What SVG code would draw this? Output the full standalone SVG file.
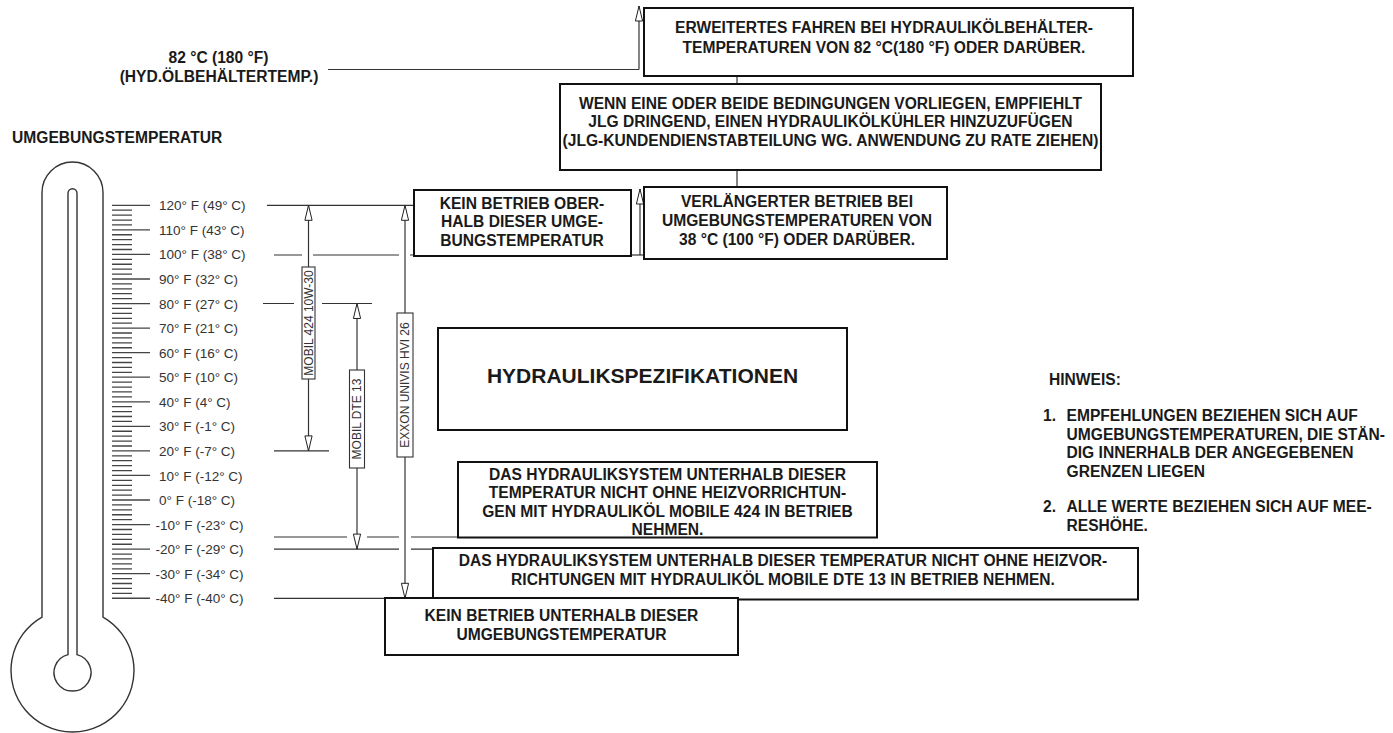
<svg xmlns="http://www.w3.org/2000/svg" width="1393" height="733" viewBox="0 0 1393 733">
<style>
.b{font-family:"Liberation Sans",Arial,Helvetica,sans-serif;font-weight:bold;font-size:15.6px;fill:#1a1a1a}
.bc{text-anchor:middle}
.s{font-family:"Liberation Sans",Arial,Helvetica,sans-serif;font-size:13.5px;fill:#333}
.v{font-family:"Liberation Sans",Arial,Helvetica,sans-serif;font-size:12px;fill:#333;text-anchor:middle}
.box{fill:#fff;stroke:#111;stroke-width:2}
.lbl{fill:#fff;stroke:#333;stroke-width:1.1}
.ln{fill:none;stroke:#333;stroke-width:1.2}
.th{fill:none;stroke:#333;stroke-width:1.4}
.tk{fill:none;stroke:#444;stroke-width:1.3}
</style>
<defs>
<marker id="ah" viewBox="-16 -5 17 10" refX="0" refY="0" markerWidth="17" markerHeight="10" markerUnits="userSpaceOnUse" orient="auto-start-reverse">
<path d="M0,0 L-15,-3.6 L-15,3.6 Z" fill="#fff" stroke="#222" stroke-width="1"/>
</marker>
</defs>
<rect width="1393" height="733" fill="#fff"/>

<g id="thermometer">
<path class="th" d="M42,617.1 V192.5 A30.5,30.5 0 0 1 103,192.5 V617.1 A61.5,61.5 0 1 1 42,617.1 Z"/>
<path class="th" d="M68,654.6 V193.2 A4.5,4.5 0 0 1 77,193.2 V654.6 A18.5,18.5 0 1 1 68,654.6 Z"/>
<path class="tk" d="M112,205.3H150M112,210.21H132M112,215.12H132M112,220.04H132M112,224.95H132M112,229.86H150M112,234.77H132M112,239.68H132M112,244.6H132M112,249.51H132M112,254.42H150M112,259.33H132M112,264.24H132M112,269.16H132M112,274.07H132M112,278.98H150M112,283.89H132M112,288.8H132M112,293.72H132M112,298.63H132M112,303.54H150M112,308.45H132M112,313.36H132M112,318.28H132M112,323.19H132M112,328.1H150M112,333.01H132M112,337.92H132M112,342.84H132M112,347.75H132M112,352.66H150M112,357.57H132M112,362.48H132M112,367.4H132M112,372.31H132M112,377.22H150M112,382.13H132M112,387.04H132M112,391.96H132M112,396.87H132M112,401.78H150M112,406.69H132M112,411.6H132M112,416.52H132M112,421.43H132M112,426.34H150M112,431.25H132M112,436.16H132M112,441.08H132M112,445.99H132M112,450.9H150M112,455.81H132M112,460.72H132M112,465.64H132M112,470.55H132M112,475.46H150M112,480.37H132M112,485.28H132M112,490.2H132M112,495.11H132M112,500.02H150M112,504.93H132M112,509.84H132M112,514.76H132M112,519.67H132M112,524.58H150M112,529.49H132M112,534.4H132M112,539.32H132M112,544.23H132M112,549.14H150M112,554.05H132M112,558.96H132M112,563.88H132M112,568.79H132M112,573.7H150M112,578.61H132M112,583.52H132M112,588.44H132M112,593.35H132M112,598.26H150"/>
<text class="s" x="159" y="210.3">120° F (49° C)</text>
<text class="s" x="159" y="234.9">110° F (43° C)</text>
<text class="s" x="159" y="259.4">100° F (38° C)</text>
<text class="s" x="159" y="284">90° F (32° C)</text>
<text class="s" x="159" y="308.5">80° F (27° C)</text>
<text class="s" x="159" y="333.1">70° F (21° C)</text>
<text class="s" x="159" y="357.7">60° F (16° C)</text>
<text class="s" x="159" y="382.2">50° F (10° C)</text>
<text class="s" x="159" y="406.8">40° F (4° C)</text>
<text class="s" x="159" y="431.3">30° F (-1° C)</text>
<text class="s" x="159" y="455.9">20° F (-7° C)</text>
<text class="s" x="159" y="480.5">10° F (-12° C)</text>
<text class="s" x="159" y="505">0° F (-18° C)</text>
<text class="s" x="155.5" y="529.6">-10° F (-23° C)</text>
<text class="s" x="155.5" y="554.1">-20° F (-29° C)</text>
<text class="s" x="155.5" y="578.7">-30° F (-34° C)</text>
<text class="s" x="155.5" y="603.3">-40° F (-40° C)</text>
</g>

<g id="title-ambient">
<text class="b" x="12" y="143.3">UMGEBUNGSTEMPERATUR</text>
</g>
<g id="label-82c">
<text class="b bc" x="218.5" y="62.5">82 °C (180 °F)</text>
<text class="b bc" x="219" y="81.5">(HYD.ÖLBEHÄLTERTEMP.)</text>
</g>

<g id="connectors">
<path class="ln" d="M328,69.5 H639"/>
<path class="ln" d="M639,69.5 V6" marker-end="url(#ah)"/>
<path class="ln" d="M737,76 V84 M737,170 V187"/>
<path class="ln" d="M631,255 H644"/>
<path class="ln" d="M640,255 V189" marker-end="url(#ah)"/>
<path class="ln" d="M267,205.3 H414"/>
<path class="ln" d="M274,255 H302 M313,255 H399 M410,255 H414"/>
<path class="ln" d="M263,303.5 H294 M322,303.5 H372"/>
<path class="ln" d="M274,450.9 H329"/>
<path class="ln" d="M274,537 H347 M367,537 H399 M411,537 H459"/>
<path class="ln" d="M274,549.1 H399 M411,549.1 H433"/>
<path class="ln" d="M274,598.3 H385"/>
<path class="ln" d="M308.5,205.3 V450.9" marker-start="url(#ah)" marker-end="url(#ah)"/>
<path class="ln" d="M357,303.5 V549.1" marker-start="url(#ah)" marker-end="url(#ah)"/>
<path class="ln" d="M405,205.3 V598.3" marker-start="url(#ah)" marker-end="url(#ah)"/>
</g>

<g id="oil-mobil-424">
<rect class="lbl" x="302" y="267" width="13" height="112"/>
<text class="v" transform="translate(308.5,323) rotate(-90)" y="4.3">MOBIL 424 10W-30</text>
</g>
<g id="oil-mobil-dte13">
<rect class="lbl" x="349.5" y="370" width="15" height="98"/>
<text class="v" transform="translate(357,419) rotate(-90)" y="4.3">MOBIL DTE 13</text>
</g>
<g id="oil-exxon">
<rect class="lbl" x="397" y="313" width="16" height="144"/>
<text class="v" transform="translate(405,385) rotate(-90)" y="4.3">EXXON UNIVIS HVI 26</text>
</g>

<g id="box-erweitert">
<rect class="box" x="644" y="8" width="489" height="68"/>
<text class="b bc" x="884" y="32.7">ERWEITERTES FAHREN BEI HYDRAULIKÖLBEHÄLTER-</text>
<text class="b bc" x="884" y="53.3">TEMPERATUREN VON 82 °C(180 °F) ODER DARÜBER.</text>
</g>
<g id="box-wenn">
<rect class="box" x="560" y="84" width="541" height="86"/>
<text class="b bc" x="830.5" y="108.7">WENN EINE ODER BEIDE BEDINGUNGEN VORLIEGEN, EMPFIEHLT</text>
<text class="b bc" x="830.5" y="127.3">JLG DRINGEND, EINEN HYDRAULIKÖLKÜHLER HINZUZUFÜGEN</text>
<text class="b bc" x="830.5" y="145.7">(JLG-KUNDENDIENSTABTEILUNG WG. ANWENDUNG ZU RATE ZIEHEN)</text>
</g>
<g id="box-kein-oberhalb">
<rect class="box" x="414" y="190" width="217" height="66"/>
<text class="b bc" x="522" y="209">KEIN BETRIEB OBER-</text>
<text class="b bc" x="522" y="227.3">HALB DIESER UMGE-</text>
<text class="b bc" x="522" y="245.7">BUNGSTEMPERATUR</text>
</g>
<g id="box-verlaengert">
<rect class="box" x="644" y="187" width="303" height="72"/>
<text class="b bc" x="797" y="207.3">VERLÄNGERTER BETRIEB BEI</text>
<text class="b bc" x="797" y="226.3">UMGEBUNGSTEMPERATUREN VON</text>
<text class="b bc" x="797" y="245.2">38 °C (100 °F) ODER DARÜBER.</text>
</g>
<g id="box-spezifikationen">
<rect class="box" x="438" y="328" width="409" height="102"/>
<text class="b bc" x="642.5" y="382.8" style="font-size:21px">HYDRAULIKSPEZIFIKATIONEN</text>
</g>
<g id="box-mobile-424">
<rect class="box" x="458" y="462" width="419" height="75.5"/>
<text class="b bc" x="667.5" y="479.5">DAS HYDRAULIKSYSTEM UNTERHALB DIESER</text>
<text class="b bc" x="667.5" y="498">TEMPERATUR NICHT OHNE HEIZVORRICHTUN-</text>
<text class="b bc" x="667.5" y="516.5">GEN MIT HYDRAULIKÖL MOBILE 424 IN BETRIEB</text>
<text class="b bc" x="667.5" y="534.5">NEHMEN.</text>
</g>
<g id="box-mobile-dte13">
<rect class="box" x="433" y="548" width="705" height="51.5"/>
<text class="b bc" x="783" y="565.5">DAS HYDRAULIKSYSTEM UNTERHALB DIESER TEMPERATUR NICHT OHNE HEIZVOR-</text>
<text class="b bc" x="783" y="585">RICHTUNGEN MIT HYDRAULIKÖL MOBILE DTE 13 IN BETRIEB NEHMEN.</text>
</g>
<g id="box-kein-unterhalb">
<rect class="box" x="385" y="598" width="353" height="57"/>
<text class="b bc" x="561.5" y="621">KEIN BETRIEB UNTERHALB DIESER</text>
<text class="b bc" x="561.5" y="640">UMGEBUNGSTEMPERATUR</text>
</g>

<g id="hinweis">
<text class="b" x="1049" y="385">HINWEIS:</text>
<text class="b" x="1043" y="421">1.</text>
<text class="b" x="1066.5" y="421">EMPFEHLUNGEN BEZIEHEN SICH AUF</text>
<text class="b" x="1066.5" y="439.5">UMGEBUNGSTEMPERATUREN, DIE STÄN-</text>
<text class="b" x="1066.5" y="458">DIG INNERHALB DER ANGEGEBENEN</text>
<text class="b" x="1066.5" y="476.5">GRENZEN LIEGEN</text>
<text class="b" x="1043" y="512">2.</text>
<text class="b" x="1066.5" y="512">ALLE WERTE BEZIEHEN SICH AUF MEE-</text>
<text class="b" x="1066.5" y="530.5">RESHÖHE.</text>
</g>
</svg>
